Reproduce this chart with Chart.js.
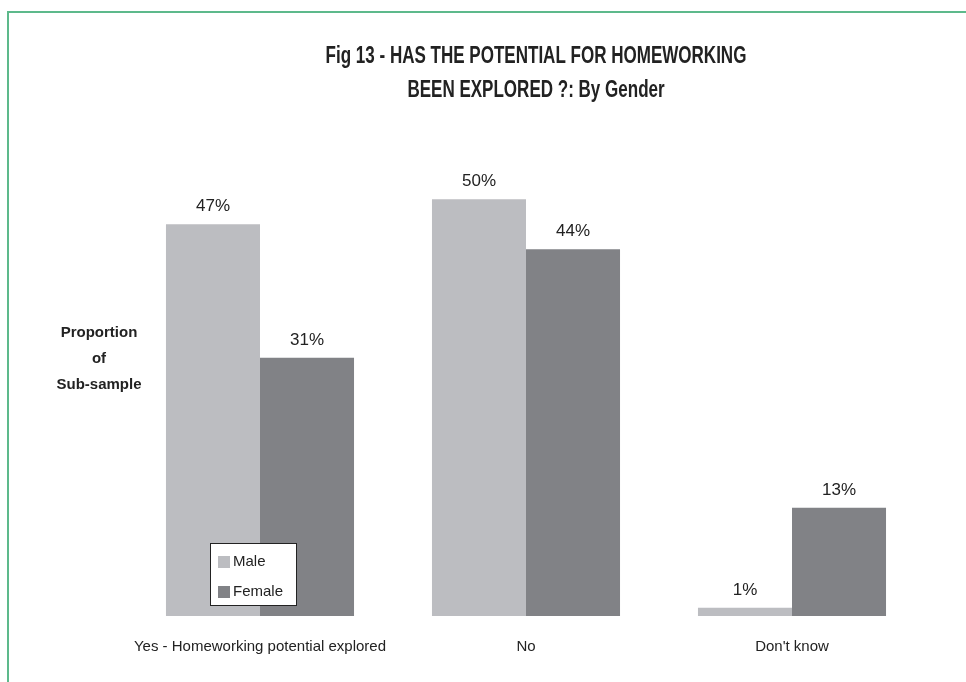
<!DOCTYPE html>
<html>
<head>
<meta charset="utf-8">
<script src="https://cdn.jsdelivr.net/npm/chart.js@4/dist/chart.umd.min.js"></script>
<style>
  html, body { margin: 0; padding: 0; background: #fff; }
  #wrap { width: 966px; height: 682px; position: relative; }
</style>
</head>
<body>
<div id="wrap"><canvas id="myChart" width="966" height="682"></canvas></div>
<script>
// data
var categories = ['Yes - Homeworking potential explored', 'No', "Don't know"];
var male = [47, 50, 1];
var female = [31, 44, 13];
var seriesNames = ['Male', 'Female'];
var titleLines = ['Fig 13 - HAS THE POTENTIAL FOR HOMEWORKING', 'BEEN EXPLORED ?: By Gender'];
var yTitleLines = ['Proportion', 'of', 'Sub-sample'];

var maleColor = '#bcbdc1';
var femaleColor = '#818286';

// draw text squeezed horizontally (no condensed font installed)
function narrowText(c, txt, x, y, sx) {
  c.save();
  c.translate(x, y);
  c.scale(sx, 1);
  c.fillText(txt, 0, 0);
  c.restore();
}

// frame, title and y title drawn on the canvas
var decor = {
  id: 'decor',
  beforeDraw: function(chart) {
    var c = chart.ctx;
    c.save();
    c.fillStyle = '#fff';
    c.fillRect(0, 0, chart.width, chart.height);
    c.strokeStyle = '#5db98b';
    c.lineWidth = 2;
    c.beginPath();
    c.moveTo(8, 682);
    c.lineTo(8, 12);
    c.lineTo(966, 12);
    c.stroke();

    c.fillStyle = '#222';
    c.textAlign = 'center';
    c.textBaseline = 'middle';
    c.font = 'bold 23px "Liberation Sans", Arial, sans-serif';
    narrowText(c, titleLines[0], 536, 57, 0.74);
    narrowText(c, titleLines[1], 536, 91, 0.74);

    c.font = 'bold 15px "Liberation Sans", Arial, sans-serif';
    c.fillText(yTitleLines[0], 99, 333);
    c.fillText(yTitleLines[1], 99, 359);
    c.fillText(yTitleLines[2], 99, 385);
    c.restore();
  },
  afterDatasetsDraw: function(chart) {
    var c = chart.ctx;
    c.save();
    c.fillStyle = '#222';
    c.textAlign = 'center';
    c.textBaseline = 'alphabetic';
    c.font = '17px "Liberation Sans", Arial, sans-serif';
    chart.data.datasets.forEach(function(ds, i) {
      chart.getDatasetMeta(i).data.forEach(function(bar, j) {
        c.fillText(ds.data[j] + '%', bar.x, bar.y - 13);
      });
    });

    // legend box inside the first group
    var lx = 210, ly = 543, lw = 86, lh = 62;
    c.fillStyle = '#fff';
    c.fillRect(lx, ly, lw, lh);
    c.strokeStyle = '#222';
    c.lineWidth = 1;
    c.strokeRect(lx + 0.5, ly + 0.5, lw, lh);
    c.textAlign = 'left';
    c.textBaseline = 'middle';
    c.font = '15px "Liberation Sans", Arial, sans-serif';
    chart.data.datasets.forEach(function(ds, i) {
      var yy = ly + 19 + i * 30;
      c.fillStyle = ds.backgroundColor;
      c.fillRect(lx + 8, yy - 6, 12, 12);
      c.fillStyle = '#222';
      c.fillText(ds.label, lx + 23, yy);
    });
    c.restore();
  }
};

var ctx = document.getElementById('myChart').getContext('2d');
var myChart = new Chart(ctx, {
  type: 'bar',
  data: {
    labels: categories,
    datasets: [
      { label: seriesNames[0], data: male, backgroundColor: maleColor },
      { label: seriesNames[1], data: female, backgroundColor: femaleColor }
    ]
  },
  options: {
    responsive: false,
    animation: false,
    layout: { padding: { left: 127, right: 41, top: 116, bottom: 12 } },
    datasets: { bar: { barPercentage: 1, categoryPercentage: 0.707 } },
    scales: {
      x: {
        grid: { display: false },
        border: { display: false },
        ticks: {
          padding: 14,
          color: '#222',
          font: { family: '"Liberation Sans", Arial, sans-serif', size: 15 }
        }
      },
      y: { display: false, min: 0, max: 60 }
    },
    plugins: {
      legend: { display: false },
      title: { display: false },
      tooltip: { enabled: false }
    }
  },
  plugins: [decor]
});
</script>
</body>
</html>
